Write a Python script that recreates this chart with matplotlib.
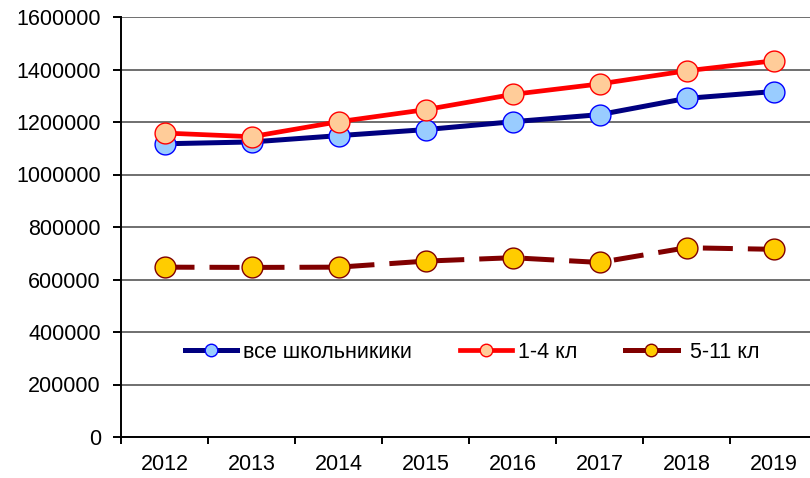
import matplotlib
matplotlib.use("Agg")
import matplotlib.pyplot as plt
import numpy as np

years = ["2012", "2013", "2014", "2015", "2016", "2017", "2018", "2019"]
all_pupils = [1117000, 1124000, 1148000, 1171000, 1201000, 1228000, 1290000, 1316000]
grades_1_4 = [1158000, 1144000, 1201000, 1247000, 1305000, 1345000, 1395000, 1433000]
grades_5_11 = [647000, 646000, 647000, 670000, 683000, 665000, 721000, 715000]
labels = ["все школьникики", "1-4 кл", " 5-11 кл"]

plt.rcParams['font.family'] = ['Liberation Sans', 'DejaVu Sans']

fig = plt.figure(figsize=(8.1, 4.78), dpi=100)
ax = fig.add_axes([121 / 810, 41 / 478, 696 / 810, 420 / 478])

x = np.arange(len(years))
ax.plot(x, all_pupils, color='#000080', lw=3.6, marker='o', ms=15,
        mfc='#99CCFF', mec='#0000FF', mew=1.0, label=labels[0], zorder=3)
ax.plot(x, grades_1_4, color='#FF0000', lw=3.4, marker='o', ms=15,
        mfc='#FFCC99', mec='#FF0000', mew=1.0, label=labels[1], zorder=4)
ax.plot(x, grades_5_11, color='#800000', lw=3.6, marker='o', ms=15,
        mfc='#FFCC00', mec='#800000', mew=1.0, dashes=(6, 3),
        label=labels[2], zorder=5)

ax.set_xlim(-0.5, 7.5)
ax.set_ylim(0, 1600000)
ax.set_yticks(np.arange(0, 1600001, 200000))
ax.set_yticklabels([str(v) for v in range(0, 1600001, 200000)])
ax.set_xticks(x)
ax.set_xticklabels(years)
ax.set_xticks(np.arange(-0.5, 8, 1), minor=True)

ax.grid(axis='y', color='#6f6f6f', lw=1.4, zorder=0)
ax.set_axisbelow(True)
for s in ['top', 'right']:
    ax.spines[s].set_visible(False)
ax.spines['left'].set_linewidth(1.4)
ax.spines['bottom'].set_linewidth(1.4)

ax.tick_params(axis='y', length=5.5, width=1.4, pad=9, labelsize=15.5)
ax.tick_params(axis='x', which='major', length=0, pad=12, labelsize=15.5)
ax.tick_params(axis='x', which='minor', length=5, width=1.4)

leg = ax.legend(loc='center', bbox_to_anchor=((472 - 121) / 696, (437 - 352) / 420),
                ncol=3, frameon=False, fontsize=15.5, handlelength=2.45,
                handletextpad=0.28, columnspacing=2.2, markerscale=0.6)
# legend line for the dashed series is drawn solid in the original
leg.get_lines()[2].set_linestyle('-')

fig.savefig("out.png", dpi=100)
